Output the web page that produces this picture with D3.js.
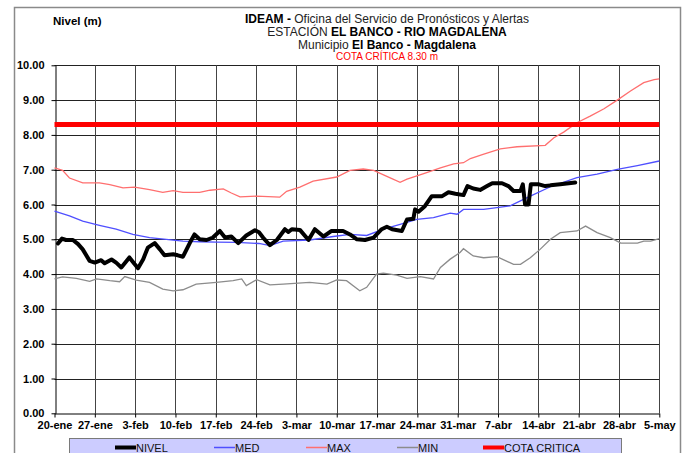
<!DOCTYPE html>
<html><head><meta charset="utf-8">
<script src="https://cdn.jsdelivr.net/npm/d3@7"></script>
<style>
body{margin:0;background:#fff;}
svg{display:block;font-family:"Liberation Sans",Arial,sans-serif;}
</style>
</head><body>
<svg id="c" width="684" height="453"></svg>
<script>
// ---- data ----
const tickLabels = ["20-ene","27-ene","3-feb","10-feb","17-feb","24-feb","3-mar","10-mar","17-mar","24-mar","31-mar","7-abr","14-abr","21-abr","28-abr","5-may"];
const tickDays = [0,7,14,21,28,35,42,49,56,63,70,77,84,91,98,105];
const yTicks = [0,1,2,3,4,5,6,7,8,9,10];
const cotaCritica = 8.30;
const legendLabels = ["NIVEL","MED","MAX","MIN","COTA CRITICA"];

// [day offset from 20-ene, level m]
const nivel = [[0.6,4.88],[1.3,5.02],[2.0,4.98],[3.2,4.98],[4.1,4.86],[4.9,4.71],[6.1,4.38],[7.0,4.33],[8.1,4.40],[8.7,4.31],[9.9,4.42],[10.7,4.33],[11.6,4.19],[13.0,4.48],[13.9,4.29],[14.5,4.17],[15.4,4.43],[16.2,4.76],[17.4,4.89],[18.3,4.71],[19.1,4.54],[20.6,4.57],[21.4,4.54],[22.3,4.50],[23.5,4.90],[24.3,5.14],[25.2,5.00],[26.4,4.98],[27.5,5.05],[28.7,5.24],[29.6,5.05],[30.7,5.08],[31.9,4.89],[33.3,5.11],[34.8,5.26],[35.5,5.20],[36.2,5.05],[37.4,4.83],[38.6,4.98],[40.0,5.29],[40.6,5.21],[41.2,5.29],[42.6,5.27],[44.1,4.98],[45.2,5.29],[46.7,5.08],[48.1,5.24],[50.1,5.24],[51.3,5.14],[52.5,5.00],[53.9,4.98],[55.4,5.05],[56.8,5.29],[57.7,5.36],[58.6,5.29],[60.3,5.24],[61.2,5.57],[62.3,5.59],[62.6,5.86],[63.2,5.79],[64.3,5.95],[65.5,6.24],[67.3,6.24],[68.4,6.35],[69.6,6.31],[71.0,6.27],[71.7,6.53],[72.7,6.46],[73.9,6.42],[75.1,6.53],[76.0,6.61],[77.7,6.61],[78.8,6.53],[79.7,6.39],[80.9,6.39],[81.3,6.58],[81.7,6.00],[82.3,6.00],[82.7,6.58],[84.1,6.58],[85.2,6.53],[86.1,6.55],[87.8,6.58],[90.4,6.63]];
const med = [[0,5.81],[2.6,5.67],[4.9,5.52],[7.8,5.40],[10.7,5.29],[13.6,5.14],[16.5,5.05],[19.4,5.00],[22.3,4.95],[25.2,4.93],[28.1,4.92],[31.6,4.91],[35.5,4.88],[37.4,4.82],[39.7,4.95],[44.3,4.98],[48.4,5.08],[51.3,5.14],[54.2,5.11],[57.1,5.29],[60.0,5.43],[62.9,5.57],[65.8,5.62],[68.7,5.75],[69.9,5.72],[71.0,5.86],[74.5,5.86],[79.1,5.96],[82.6,6.24],[86.1,6.51],[90.7,6.77],[94.2,6.87],[97.7,7.01],[101.2,7.12],[105,7.25]];
const maxS = [[0,7.05],[1.4,6.98],[2.6,6.76],[4.9,6.62],[7.8,6.62],[9.6,6.57],[11.9,6.48],[13.9,6.50],[16.5,6.43],[18.8,6.35],[20.6,6.40],[22.3,6.35],[25.2,6.35],[27.0,6.41],[29.3,6.45],[30.7,6.33],[32.2,6.22],[35.1,6.24],[39.1,6.21],[40.3,6.38],[42.6,6.50],[44.9,6.67],[49.0,6.79],[51.3,6.98],[53.6,7.02],[55.4,6.98],[57.7,6.81],[60.0,6.64],[61.2,6.73],[64.1,6.89],[67.0,7.05],[69.3,7.17],[71.0,7.20],[72.2,7.32],[74.4,7.44],[77.4,7.60],[80.3,7.66],[85.2,7.70],[86.7,7.92],[88.4,8.08],[90.7,8.35],[93.0,8.54],[95.4,8.75],[97.7,9.00],[100.0,9.26],[102.3,9.50],[104.1,9.59],[105,9.61]];
const minS = [[0,3.86],[1.4,3.92],[3.8,3.88],[6.1,3.79],[7.3,3.86],[9.6,3.81],[11.3,3.78],[12.2,3.93],[14.2,3.83],[16.5,3.76],[18.8,3.57],[20.6,3.52],[22.3,3.55],[24.6,3.71],[28.1,3.76],[31.0,3.81],[32.5,3.86],[33.3,3.67],[35.1,3.84],[37.4,3.69],[39.7,3.71],[44.3,3.76],[47.3,3.71],[49.0,3.83],[50.7,3.81],[53.0,3.52],[54.2,3.62],[55.9,4.00],[57.1,4.03],[59.4,3.97],[61.2,3.88],[63.5,3.93],[65.8,3.86],[67.0,4.19],[68.7,4.43],[70.4,4.62],[71.0,4.73],[72.7,4.52],[74.5,4.47],[76.8,4.50],[79.7,4.28],[80.9,4.28],[82.6,4.47],[84.3,4.71],[86.1,5.00],[87.8,5.19],[90.7,5.24],[92.2,5.38],[94.2,5.19],[96.5,5.05],[98.3,4.89],[101.2,4.89],[102.3,4.95],[103.5,4.95],[105,5.02]];

// ---- drawing ----
const svg = d3.select("#c");
const x = d3.scaleLinear().domain([0,105]).range([54.5,659.3]);
const y = d3.scaleLinear().domain([0,10]).range([413.3,65.3]);

// outer frame
svg.append("rect").attr("x",14.5).attr("y",7.5).attr("width",666).attr("height",470)
  .attr("fill","none").attr("stroke","#8a8a8a").attr("stroke-width",1.5);

// gridlines
svg.append("g").selectAll("line").data(yTicks.slice(1)).join("line")
  .attr("x1",x(0)).attr("x2",x(105)).attr("y1",d=>Math.round(y(d))+0.5).attr("y2",d=>Math.round(y(d))+0.5)
  .attr("stroke","#222").attr("stroke-width",1);
svg.append("g").selectAll("line").data(tickDays.slice(1)).join("line")
  .attr("x1",d=>Math.round(x(d))+0.5).attr("x2",d=>Math.round(x(d))+0.5).attr("y1",y(10)).attr("y2",y(0))
  .attr("stroke","#444").attr("stroke-width",1);

// axes
const gy = svg.append("g").attr("transform",`translate(${Math.round(x(0))+0.5},0)`)
  .call(d3.axisLeft(y).tickValues(yTicks).tickFormat(d3.format(".2f")).tickSize(4).tickSizeOuter(0).tickPadding(7));
const gx = svg.append("g").attr("transform",`translate(0,${Math.round(y(0))+0.5})`)
  .call(d3.axisBottom(x).tickValues(tickDays).tickFormat((d,i)=>tickLabels[i]).tickSize(4).tickSizeOuter(0).tickPadding(4));
[gy,gx].forEach(g=>{
  g.selectAll("text").attr("font-size",11).attr("font-weight","bold").attr("fill","#000")
   .attr("font-family",'"Liberation Sans",Arial,sans-serif');
  g.selectAll("line,path").attr("stroke","#000");
});

// series
const line = d3.line().x(d=>x(d[0])).y(d=>y(d[1]));
svg.append("path").datum(minS).attr("d",line).attr("fill","none").attr("stroke","#8c8c8c").attr("stroke-width",1.3);
svg.append("path").datum(maxS).attr("d",line).attr("fill","none").attr("stroke","#ff6f6f").attr("stroke-width",1.3);
svg.append("path").datum(med).attr("d",line).attr("fill","none").attr("stroke","#4f4fff").attr("stroke-width",1.3);
svg.append("line").attr("x1",x(0)).attr("x2",x(105)).attr("y1",y(cotaCritica)).attr("y2",y(cotaCritica))
  .attr("stroke","#ff0000").attr("stroke-width",5);
svg.append("path").datum(nivel).attr("d",line).attr("fill","none").attr("stroke","#000")
  .attr("stroke-width",4).attr("stroke-linejoin","round").attr("stroke-linecap","round");

// titles
svg.append("text").attr("x",53).attr("y",25).attr("font-size",11.5).attr("font-weight","bold").text("Nivel (m)");
const cx = 387;
const t1 = svg.append("text").attr("x",cx).attr("y",22.5).attr("text-anchor","middle").attr("font-size",12);
t1.append("tspan").attr("font-weight","bold").text("IDEAM -");
t1.append("tspan").attr("fill","#222").text(" Oficina del Servicio de Pronósticos y Alertas");
const t2 = svg.append("text").attr("x",cx).attr("y",36).attr("text-anchor","middle").attr("font-size",12);
t2.append("tspan").attr("fill","#222").text("ESTACIÓN ");
t2.append("tspan").attr("font-weight","bold").text("EL BANCO - RIO MAGDALENA");
const t3 = svg.append("text").attr("x",cx).attr("y",48.5).attr("text-anchor","middle").attr("font-size",12);
t3.append("tspan").attr("fill","#222").text("Municipio ");
t3.append("tspan").attr("font-weight","bold").text("El Banco - Magdalena");
svg.append("text").attr("x",cx).attr("y",60).attr("text-anchor","middle").attr("font-size",10)
  .attr("fill","#ff0000").text("COTA CRÍTICA 8.30 m");

// legend
svg.append("rect").attr("x",69.5).attr("y",438.5).attr("width",552).attr("height",30)
  .attr("fill","#ccccff").attr("stroke","#7a7a7a").attr("stroke-width",1);
const legStyle = [
  {x:115,c:"#000",w:4},{x:214,c:"#4f4fff",w:1.5},{x:306,c:"#ff6f6f",w:1.5},{x:397,c:"#8c8c8c",w:1.5},{x:483,c:"#ff0000",w:4}
];
legendLabels.forEach((lab,i)=>{
  const s = legStyle[i];
  svg.append("line").attr("x1",s.x).attr("x2",s.x+21).attr("y1",447.5).attr("y2",447.5)
    .attr("stroke",s.c).attr("stroke-width",s.w);
  svg.append("text").attr("x",s.x+21).attr("y",451.5).attr("font-size",11).attr("fill","#111").text(lab);
});
</script>
</body></html>
